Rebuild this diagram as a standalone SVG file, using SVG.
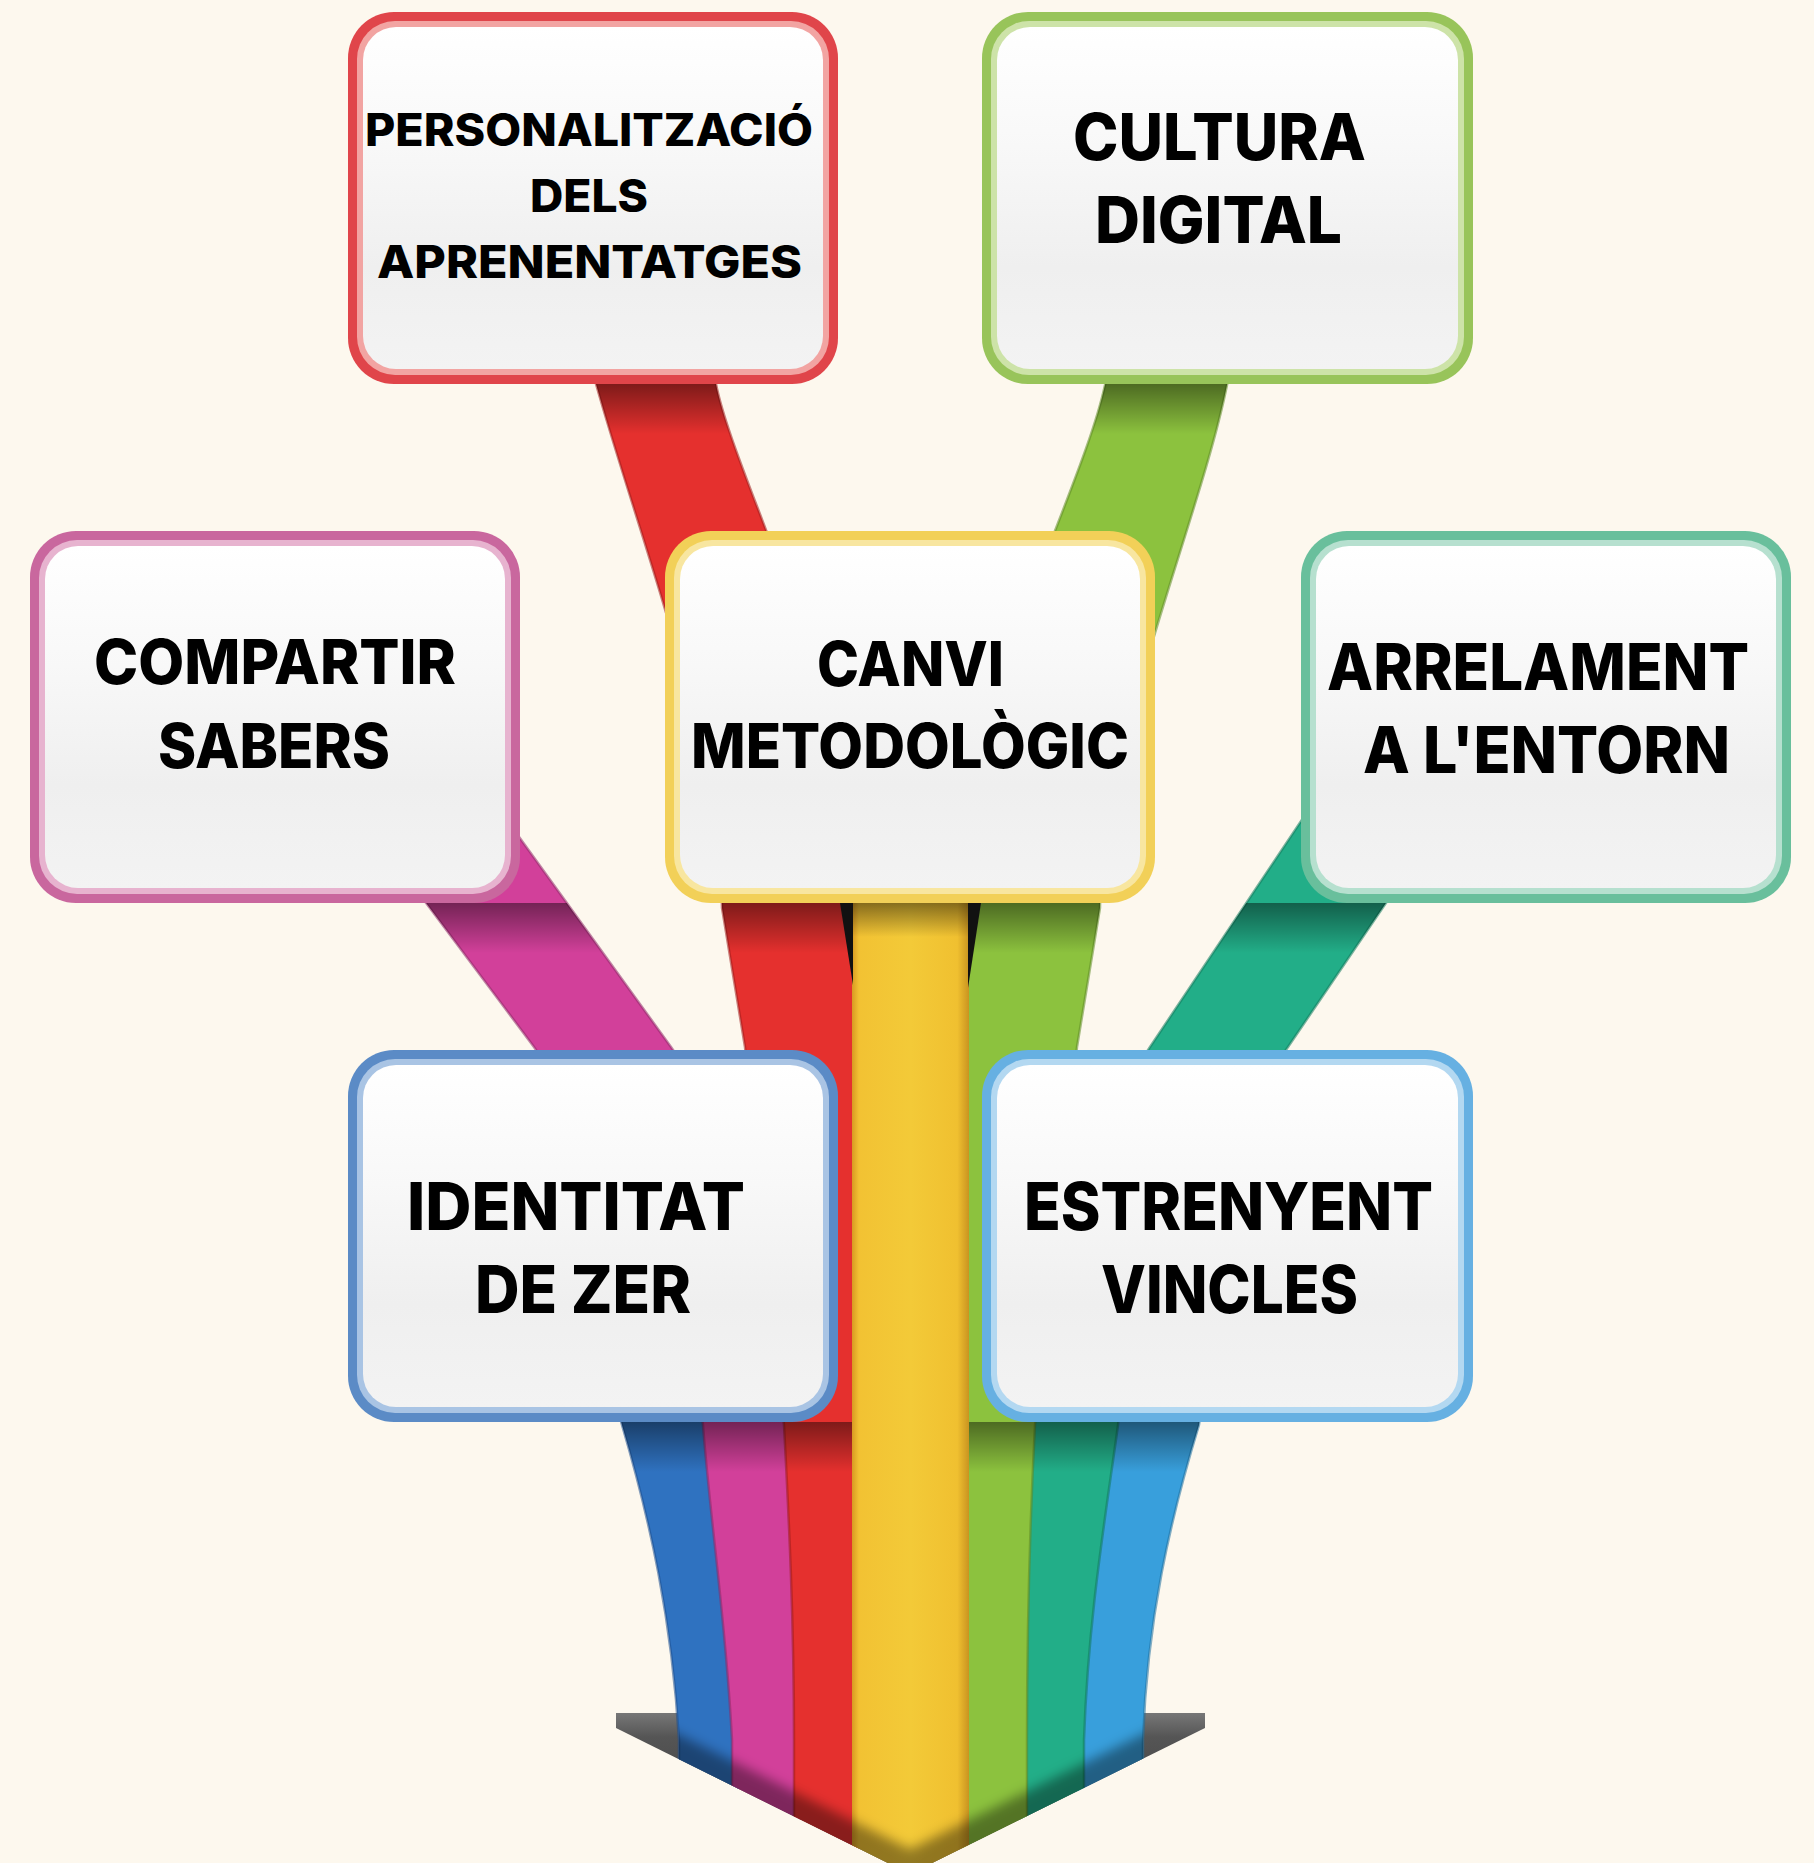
<svg xmlns="http://www.w3.org/2000/svg" xmlns:xlink="http://www.w3.org/1999/xlink" width="1814" height="1863" viewBox="0 0 1814 1863">
<defs>
<style>
.lbl{font-family:Inter,"Open Sans","Liberation Sans",sans-serif;font-weight:800;fill:#000;}
.rib{stroke-width:2.5;stroke-opacity:0.55;}
</style>
<linearGradient id="paper" x1="0" y1="0" x2="0" y2="1">
<stop offset="0" stop-color="#ffffff"/>
<stop offset="0.35" stop-color="#f8f8f8"/>
<stop offset="0.7" stop-color="#efefef"/>
<stop offset="1" stop-color="#f3f3f3"/>
</linearGradient>
<linearGradient id="wing" x1="0" y1="0" x2="0" y2="1">
<stop offset="0" stop-color="#777"/>
<stop offset="0.15" stop-color="#555"/>
<stop offset="1" stop-color="#333"/>
</linearGradient>
<linearGradient id="yel" x1="0" y1="0" x2="1" y2="0">
<stop offset="0" stop-color="#d99a22"/>
<stop offset="0.06" stop-color="#f2c233"/>
<stop offset="0.5" stop-color="#f3ca38"/>
<stop offset="0.9" stop-color="#f0c030"/>
<stop offset="1" stop-color="#c99420"/>
</linearGradient>
<linearGradient id="shade" x1="0" y1="0" x2="0" y2="1">
<stop offset="0" stop-color="#000" stop-opacity="0.45"/>
<stop offset="1" stop-color="#000" stop-opacity="0"/>
</linearGradient>
<filter id="blur6" x="-20%" y="-20%" width="140%" height="140%"><feGaussianBlur stdDeviation="6"/></filter>
<clipPath id="vclip"><polygon points="0,0 1814,0 1814,1728 1205,1728 910,1874 616,1728 0,1728"/></clipPath>
<path id="r-blue" d="M610,1380 L622,1425 C650,1520 672,1620 679,1740 L679,1880 L738,1880 L738,1740 C732,1620 716,1520 709,1425 L705,1380 Z"/>
<path id="r-lblue" d="M1112,1380 L1112,1425 C1100,1520 1085,1620 1078,1740 L1078,1880 L1143,1880 L1143,1740 C1147,1620 1170,1520 1199,1425 L1205,1380 Z"/>
<path id="r-mag" d="M274,700 L534,1047 C600,1140 690,1300 703,1425 C710,1520 726,1620 732,1740 L732,1880 L800,1880 L800,1740 L790,1425 C780,1300 740,1140 671,1047 L420,700 Z"/>
<path id="r-teal" d="M1382,700 L1150,1047 C1080,1150 1040,1300 1029,1425 C1025,1520 1022,1620 1021,1740 L1021,1880 L1084,1880 L1084,1740 C1088,1620 1105,1520 1118,1425 C1130,1300 1220,1140 1288,1047 L1524,700 Z"/>
<path id="r-red" d="M592,372 L596,384 C640,540 722,750 722,908 L745,1047 L784,1425 C789,1520 794,1620 794,1740 L794,1880 L858,1880 L858,908 C852,690 735,480 716,384 L713,372 Z"/>
<path id="r-green" d="M1108,372 L1105,385 C1080,500 963,700 963,908 L963,1880 L1027,1880 L1027,1740 C1027,1620 1030,1520 1035,1425 L1077,1047 L1100,908 C1100,750 1200,520 1227,385 L1230,372 Z"/>
<rect id="r-yel" x="852" y="890" width="117" height="990"/>
<clipPath id="ribclip">
<use xlink:href="#r-blue"/><use xlink:href="#r-lblue"/><use xlink:href="#r-mag"/><use xlink:href="#r-teal"/><use xlink:href="#r-red"/><use xlink:href="#r-green"/>
</clipPath>
<clipPath id="bundleclip"><rect x="679" y="1600" width="464" height="300"/></clipPath>
</defs>
<rect width="1814" height="1863" fill="#fdf8ee"/>
<g id="arrowhead">
<polygon points="616,1713 1205,1713 1205,1728 910,1874 616,1728" fill="url(#wing)"/>
</g>
<g id="connectors" clip-path="url(#vclip)">
<use xlink:href="#r-blue" class="rib" fill="#2f72c0" stroke="#1d4f8e"/>
<use xlink:href="#r-lblue" class="rib" fill="#389fdc" stroke="#1f6f9e"/>
<use xlink:href="#r-mag" class="rib" fill="#d2409a" stroke="#8e2a68"/>
<use xlink:href="#r-teal" class="rib" fill="#22ae88" stroke="#137a5c"/>
<use xlink:href="#r-red" class="rib" fill="#e5302e" stroke="#9e1e1e"/>
<use xlink:href="#r-green" class="rib" fill="#8cc23e" stroke="#5e8a27"/>
<g clip-path="url(#ribclip)">
<rect x="340" y="384" width="1140" height="50" fill="url(#shade)"/>
<rect x="20" y="903" width="1780" height="50" fill="url(#shade)"/>
<rect x="340" y="1422" width="1140" height="50" fill="url(#shade)"/>
</g>
<use xlink:href="#r-yel" fill="url(#yel)"/>
<rect x="852" y="903" width="117" height="34" fill="url(#shade)"/>
<polygon points="840,903 853,903 853,985" fill="#111"/>
<polygon points="968,903 981,903 968,988" fill="#111"/>
<g clip-path="url(#bundleclip)">
<path d="M616,1728 L910,1874 L1205,1728" fill="none" stroke="#000" stroke-opacity="0.4" stroke-width="44" filter="url(#blur6)"/>
</g>
</g>
<g id="n-personal">
<rect x="348" y="12" width="490" height="372" rx="46" fill="#e0454a"/>
<rect x="357" y="21" width="472" height="354" rx="38" fill="#f2a4a2"/>
<rect x="363" y="27" width="460" height="342" rx="33" fill="url(#paper)"/>
<text class="lbl" font-size="45" x="365" y="146" textLength="448" lengthAdjust="spacingAndGlyphs">PERSONALITZACIÓ</text>
<text class="lbl" font-size="45" x="530" y="212" textLength="118" lengthAdjust="spacingAndGlyphs">DELS</text>
<text class="lbl" font-size="45" x="377" y="278" textLength="425" lengthAdjust="spacingAndGlyphs">APRENENTATGES</text>
</g>
<g id="n-cultura">
<rect x="982" y="12" width="491" height="372" rx="46" fill="#98c45a"/>
<rect x="991" y="21" width="473" height="354" rx="38" fill="#cde3a8"/>
<rect x="997" y="27" width="461" height="342" rx="33" fill="url(#paper)"/>
<text class="lbl" font-size="64" x="1073" y="160" textLength="293" lengthAdjust="spacingAndGlyphs">CULTURA</text>
<text class="lbl" font-size="64" x="1095" y="243" textLength="247" lengthAdjust="spacingAndGlyphs">DIGITAL</text>
</g>
<g id="n-compartir">
<rect x="30" y="531" width="490" height="372" rx="46" fill="#c9679e"/>
<rect x="39" y="540" width="472" height="354" rx="38" fill="#e7b3cf"/>
<rect x="45" y="546" width="460" height="342" rx="33" fill="url(#paper)"/>
<text class="lbl" font-size="62" x="94" y="684" textLength="362" lengthAdjust="spacingAndGlyphs">COMPARTIR</text>
<text class="lbl" font-size="62" x="158" y="768" textLength="232" lengthAdjust="spacingAndGlyphs">SABERS</text>
</g>
<g id="n-canvi">
<rect x="665" y="531" width="490" height="372" rx="46" fill="#f2d058"/>
<rect x="674" y="540" width="472" height="354" rx="38" fill="#f8e6a0"/>
<rect x="680" y="546" width="460" height="342" rx="33" fill="url(#paper)"/>
<text class="lbl" font-size="62" x="817" y="686" textLength="187" lengthAdjust="spacingAndGlyphs">CANVI</text>
<text class="lbl" font-size="62" x="691" y="768" textLength="438" lengthAdjust="spacingAndGlyphs">METODOLÒGIC</text>
</g>
<g id="n-arrelament">
<rect x="1301" y="531" width="490" height="372" rx="46" fill="#69bf9c"/>
<rect x="1310" y="540" width="472" height="354" rx="38" fill="#b6e0cf"/>
<rect x="1316" y="546" width="460" height="342" rx="33" fill="url(#paper)"/>
<text class="lbl" font-size="64" x="1327" y="690" textLength="422" lengthAdjust="spacingAndGlyphs">ARRELAMENT</text>
<text class="lbl" font-size="64" x="1363" y="773" textLength="367" lengthAdjust="spacingAndGlyphs">A L'ENTORN</text>
</g>
<g id="n-identitat">
<rect x="348" y="1050" width="490" height="372" rx="46" fill="#5b8bc6"/>
<rect x="357" y="1059" width="472" height="354" rx="38" fill="#a9c4e4"/>
<rect x="363" y="1065" width="460" height="342" rx="33" fill="url(#paper)"/>
<text class="lbl" font-size="66" x="407" y="1230" textLength="338" lengthAdjust="spacingAndGlyphs">IDENTITAT</text>
<text class="lbl" font-size="66" x="475" y="1313" textLength="216" lengthAdjust="spacingAndGlyphs">DE ZER</text>
</g>
<g id="n-estrenyent">
<rect x="982" y="1050" width="491" height="372" rx="46" fill="#66b0e2"/>
<rect x="991" y="1059" width="473" height="354" rx="38" fill="#b3d8f1"/>
<rect x="997" y="1065" width="461" height="342" rx="33" fill="url(#paper)"/>
<text class="lbl" font-size="66" x="1024" y="1230" textLength="409" lengthAdjust="spacingAndGlyphs">ESTRENYENT</text>
<text class="lbl" font-size="66" x="1101" y="1313" textLength="257" lengthAdjust="spacingAndGlyphs">VINCLES</text>
</g>
</svg>
